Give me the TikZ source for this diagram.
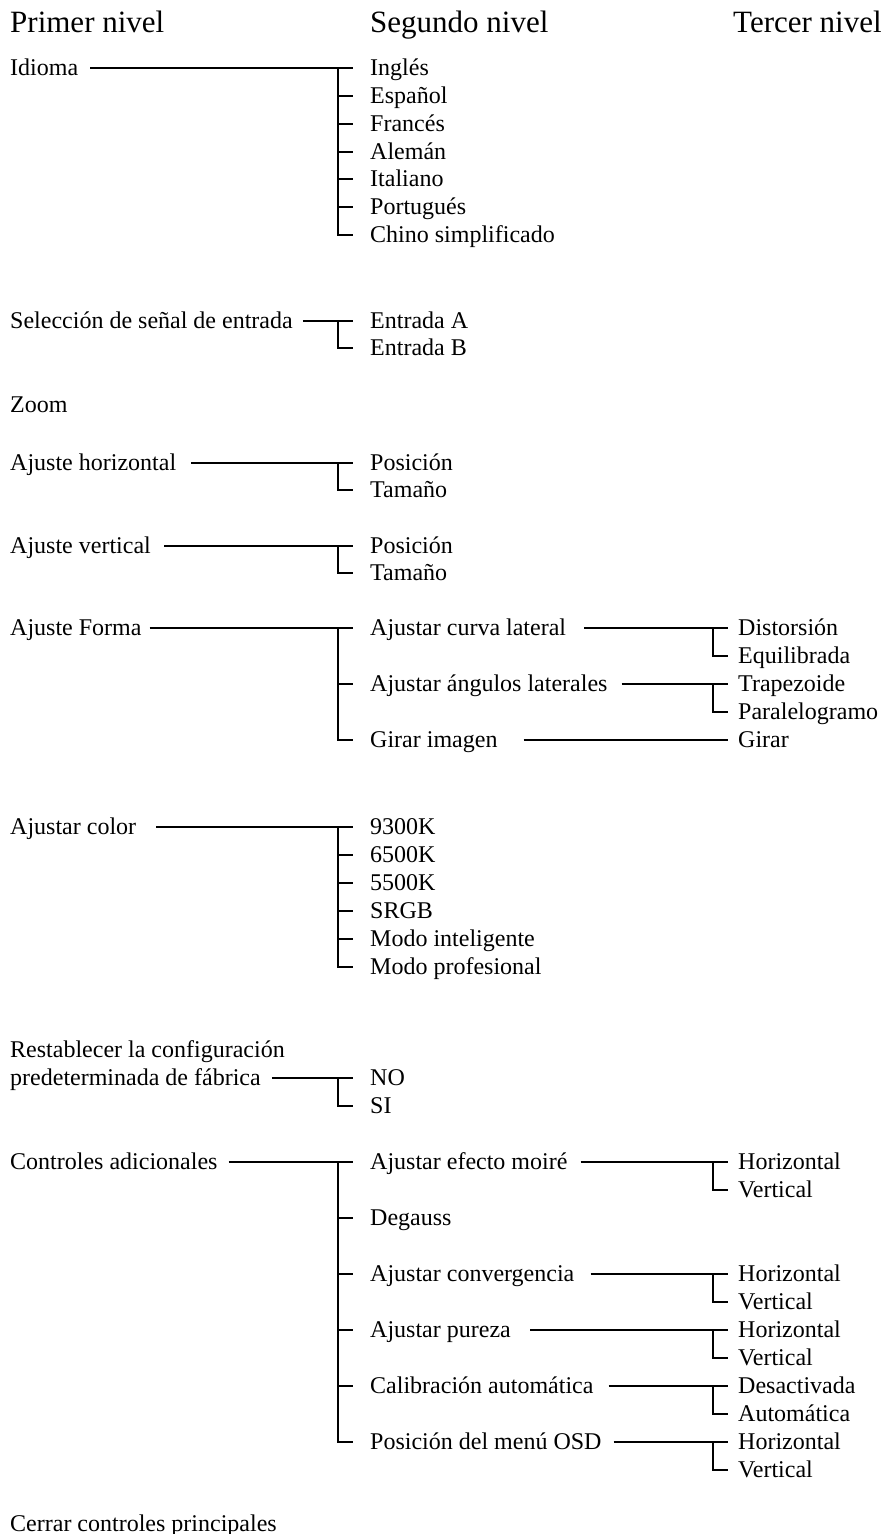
\documentclass[tikz,border=0pt]{standalone}
\usepackage{fontspec}
\setmainfont{Liberation Serif}
\begin{document}
\begin{tikzpicture}[x=1pt,y=-1pt,
  lbl/.style={anchor=west, inner sep=0pt, text height=16pt, text depth=2pt, font=\fontsize{24}{28}\selectfont},
  ttl/.style={anchor=base west, inner sep=0pt, font=\fontsize{31}{36}\selectfont},
  conn/.style={line width=1.8pt, line join=miter}]
\useasboundingbox (0,0) rectangle (889,1534);
% titles
\node[ttl] (t1) at (10,32) {Primer nivel};
\node[ttl] (t2) at (370,32) {Segundo nivel};
\node[ttl] (t3) at (733,32) {Tercer nivel};
% Idioma
\node[lbl] (idioma) at (10,68) {Idioma};
\node[lbl] (i1) at (370,68) {Inglés};
\node[lbl] (i2) at (370,96) {Español};
\node[lbl] (i3) at (370,124) {Francés};
\node[lbl] (i4) at (370,152) {Alemán};
\node[lbl] (i5) at (370,179) {Italiano};
\node[lbl] (i6) at (370,207) {Portugués};
\node[lbl] (i7) at (370,235) {Chino simplificado};
\draw[conn] ([xshift=12pt]idioma.east) -- ([xshift=-17pt]i1.west);
\draw[conn] ([xshift=-32pt]i1.west) |- ([xshift=-17pt]i7.west);
\foreach \k in {2,...,6} \draw[conn] ([xshift=-32pt]i\k.west) -- ([xshift=-17pt]i\k.west);
% Seleccion
\node[lbl] (sel) at (10,321) {Selección de señal de entrada};
\node[lbl] (sa) at (370,321) {Entrada A};
\node[lbl] (sb) at (370,348) {Entrada B};
\draw[conn] ([xshift=10pt]sel.east) -- ([xshift=-17pt]sa.west);
\draw[conn] ([xshift=-32pt]sa.west) |- ([xshift=-17pt]sb.west);
% Zoom
\node[lbl] (zoom) at (10,405) {Zoom};
% Ajuste horizontal
\node[lbl] (ah) at (10,463) {Ajuste horizontal};
\node[lbl] (ah1) at (370,463) {Posición};
\node[lbl] (ah2) at (370,490) {Tamaño};
\draw[conn] ([xshift=15pt]ah.east) -- ([xshift=-17pt]ah1.west);
\draw[conn] ([xshift=-32pt]ah1.west) |- ([xshift=-17pt]ah2.west);
% Ajuste vertical
\node[lbl] (av) at (10,546) {Ajuste vertical};
\node[lbl] (av1) at (370,546) {Posición};
\node[lbl] (av2) at (370,573) {Tamaño};
\draw[conn] ([xshift=13pt]av.east) -- ([xshift=-17pt]av1.west);
\draw[conn] ([xshift=-32pt]av1.west) |- ([xshift=-17pt]av2.west);
% Ajuste Forma
\node[lbl] (af) at (10,628) {Ajuste Forma};
\node[lbl] (af1) at (370,628) {Ajustar curva lateral};
\node[lbl] (af2) at (370,684) {Ajustar ángulos laterales};
\node[lbl] (af3) at (370,740) {Girar imagen};
\node[lbl] (d1) at (738,628) {Distorsión};
\node[lbl] (d2) at (738,656) {Equilibrada};
\node[lbl] (e1) at (738,684) {Trapezoide};
\node[lbl] (e2) at (738,712) {Paralelogramo};
\node[lbl] (g1) at (738,740) {Girar};
\draw[conn] ([xshift=8pt]af.east) -- ([xshift=-17pt]af1.west);
\draw[conn] ([xshift=-32pt]af1.west) |- ([xshift=-17pt]af3.west);
\draw[conn] ([xshift=-32pt]af2.west) -- ([xshift=-17pt]af2.west);
\draw[conn] ([xshift=18pt]af1.east) -- ([xshift=-10pt]d1.west);
\draw[conn] ([xshift=-25pt]d1.west) |- ([xshift=-10pt]d2.west);
\draw[conn] ([xshift=14pt]af2.east) -- ([xshift=-10pt]e1.west);
\draw[conn] ([xshift=-25pt]e1.west) |- ([xshift=-10pt]e2.west);
\draw[conn] ([xshift=26pt]af3.east) -- ([xshift=-10pt]g1.west);
% Ajustar color
\node[lbl] (ac) at (10,827) {Ajustar color};
\node[lbl] (c1) at (370,827) {9300K};
\node[lbl] (c2) at (370,855) {6500K};
\node[lbl] (c3) at (370,883) {5500K};
\node[lbl] (c4) at (370,911) {SRGB};
\node[lbl] (c5) at (370,939) {Modo inteligente};
\node[lbl] (c6) at (370,967) {Modo profesional};
\draw[conn] ([xshift=20pt]ac.east) -- ([xshift=-17pt]c1.west);
\draw[conn] ([xshift=-32pt]c1.west) |- ([xshift=-17pt]c6.west);
\foreach \k in {2,...,5} \draw[conn] ([xshift=-32pt]c\k.west) -- ([xshift=-17pt]c\k.west);
% Restablecer
\node[lbl] (r0) at (10,1050) {Restablecer la configuración};
\node[lbl] (r) at (10,1078) {predeterminada de fábrica};
\node[lbl] (r1) at (370,1078) {NO};
\node[lbl] (r2) at (370,1106) {SI};
\draw[conn] ([xshift=11pt]r.east) -- ([xshift=-17pt]r1.west);
\draw[conn] ([xshift=-32pt]r1.west) |- ([xshift=-17pt]r2.west);
% Controles adicionales
\node[lbl] (ca) at (10,1162) {Controles adicionales};
\node[lbl] (ca1) at (370,1162) {Ajustar efecto moiré};
\node[lbl] (ca2) at (370,1218) {Degauss};
\node[lbl] (ca3) at (370,1274) {Ajustar convergencia};
\node[lbl] (ca4) at (370,1330) {Ajustar pureza};
\node[lbl] (ca5) at (370,1386) {Calibración automática};
\node[lbl] (ca6) at (370,1442) {Posición del menú OSD};
\node[lbl] (m1) at (738,1162) {Horizontal};
\node[lbl] (m2) at (738,1190) {Vertical};
\node[lbl] (v1) at (738,1274) {Horizontal};
\node[lbl] (v2) at (738,1302) {Vertical};
\node[lbl] (p1) at (738,1330) {Horizontal};
\node[lbl] (p2) at (738,1358) {Vertical};
\node[lbl] (k1) at (738,1386) {Desactivada};
\node[lbl] (k2) at (738,1414) {Automática};
\node[lbl] (o1) at (738,1442) {Horizontal};
\node[lbl] (o2) at (738,1470) {Vertical};
\draw[conn] ([xshift=11pt]ca.east) -- ([xshift=-17pt]ca1.west);
\draw[conn] ([xshift=-32pt]ca1.west) |- ([xshift=-17pt]ca6.west);
\foreach \k in {2,...,5} \draw[conn] ([xshift=-32pt]ca\k.west) -- ([xshift=-17pt]ca\k.west);
\draw[conn] ([xshift=13pt]ca1.east) -- ([xshift=-10pt]m1.west);
\draw[conn] ([xshift=-25pt]m1.west) |- ([xshift=-10pt]m2.west);
\draw[conn] ([xshift=16pt]ca3.east) -- ([xshift=-10pt]v1.west);
\draw[conn] ([xshift=-25pt]v1.west) |- ([xshift=-10pt]v2.west);
\draw[conn] ([xshift=19pt]ca4.east) -- ([xshift=-10pt]p1.west);
\draw[conn] ([xshift=-25pt]p1.west) |- ([xshift=-10pt]p2.west);
\draw[conn] ([xshift=15pt]ca5.east) -- ([xshift=-10pt]k1.west);
\draw[conn] ([xshift=-25pt]k1.west) |- ([xshift=-10pt]k2.west);
\draw[conn] ([xshift=12pt]ca6.east) -- ([xshift=-10pt]o1.west);
\draw[conn] ([xshift=-25pt]o1.west) |- ([xshift=-10pt]o2.west);
% Cerrar
\node[lbl] (cerrar) at (10,1524) {Cerrar controles principales};
\end{tikzpicture}
\end{document}
